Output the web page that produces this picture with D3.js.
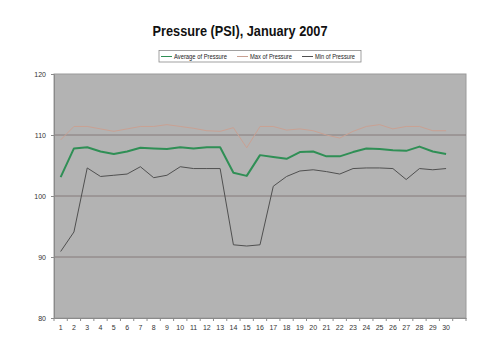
<!DOCTYPE html>
<html>
<head>
<meta charset="utf-8">
<script src="https://cdn.jsdelivr.net/npm/d3@7"></script>
<style>
  body { margin: 0; background: #fff; }
  text { font-family: "Liberation Sans", Arial, sans-serif; }
</style>
</head>
<body>
<div id="chart"></div>
<script>
// January days, the 31st slot is left empty on the axis
var days = d3.range(1, 32);
var dayLabels = d3.range(1, 31).map(String).concat([""]);
var yTicks = [80, 90, 100, 110, 120];

var avgPressure = [103.1, 107.8, 108.0, 107.3, 106.9, 107.3, 107.9, 107.8, 107.7, 108.0,
  107.8, 108.0, 108.0, 103.8, 103.3, 106.7, 106.4, 106.1, 107.2, 107.3,
  106.5, 106.5, 107.2, 107.8, 107.7, 107.5, 107.4, 108.1, 107.3, 106.9];
var maxPressure = [109.2, 111.4, 111.4, 111.0, 110.6, 111.0, 111.4, 111.4, 111.7, 111.4,
  111.1, 110.7, 110.6, 111.2, 107.9, 111.4, 111.4, 110.8, 111.0, 110.7,
  110.0, 109.5, 110.6, 111.4, 111.7, 111.0, 111.4, 111.4, 110.7, 110.7];
var minPressure = [90.9, 94.1, 104.6, 103.2, 103.4, 103.6, 104.8, 103.0, 103.4, 104.8,
  104.5, 104.5, 104.5, 92.0, 91.8, 92.0, 101.6, 103.2, 104.1, 104.3,
  104.0, 103.6, 104.5, 104.6, 104.6, 104.5, 102.7, 104.5, 104.3, 104.5];

var seriesNames = ["Average of Pressure", "Max of Pressure", "Min of Pressure"];
var seriesColors = ["#2f8f55", "#c9a193", "#505050"];
var seriesWidths = [2, 1, 1];
var seriesData = [avgPressure, maxPressure, minPressure];

var width = 501, height = 362;
var margin = {top: 74, right: 35, bottom: 44, left: 54};

var svg = d3.select("#chart").append("svg")
  .attr("width", width)
  .attr("height", height);

var x = d3.scaleBand()
  .domain(days)
  .range([margin.left, width - margin.right]);

var y = d3.scaleLinear()
  .domain([80, 120])
  .range([height - margin.bottom, margin.top]);

// plot area
svg.append("rect")
  .attr("x", margin.left)
  .attr("y", margin.top)
  .attr("width", width - margin.left - margin.right)
  .attr("height", height - margin.top - margin.bottom)
  .attr("fill", "#b3b3b3")
  .attr("stroke", "#9a9a9a")
  .attr("stroke-width", 1);

// gridlines
svg.append("g")
  .selectAll("line")
  .data(yTicks.filter(function(d) { return d > 80 && d < 120; }))
  .enter().append("line")
  .attr("x1", margin.left)
  .attr("x2", width - margin.right)
  .attr("y1", function(d) { return y(d); })
  .attr("y2", function(d) { return y(d); })
  .attr("stroke", "#857b7b")
  .attr("stroke-width", 1);

// y axis
var yAxis = svg.append("g")
  .attr("transform", "translate(" + margin.left + ",0)")
  .call(d3.axisLeft(y).tickValues(yTicks).tickSize(3).tickPadding(5));
yAxis.select(".domain").attr("stroke", "#8a8a8a");
yAxis.selectAll(".tick line").attr("stroke", "#8a8a8a");
yAxis.selectAll("text").attr("font-size", "7px").attr("fill", "#333");

// x axis
var xAxis = svg.append("g")
  .attr("transform", "translate(0," + (height - margin.bottom) + ")")
  .call(d3.axisBottom(x).tickSize(0).tickPadding(7)
    .tickFormat(function(d, i) { return dayLabels[i]; }));
xAxis.select(".domain").attr("stroke", "#8a8a8a");
xAxis.selectAll("text").attr("font-size", "7px").attr("fill", "#333");

// x tick marks between categories
xAxis.selectAll(".sep")
  .data(days.concat([32]))
  .enter().append("line")
  .attr("class", "sep")
  .attr("x1", function(d) { return d <= 31 ? x(d) : x(31) + x.bandwidth(); })
  .attr("x2", function(d) { return d <= 31 ? x(d) : x(31) + x.bandwidth(); })
  .attr("y1", 0)
  .attr("y2", 3)
  .attr("stroke", "#8a8a8a");

var line = d3.line()
  .x(function(d, i) { return x(days[i]) + x.bandwidth() / 2; })
  .y(function(d) { return y(d); });

// draw min, max, then average on top
[2, 1, 0].forEach(function(k) {
  svg.append("path")
    .datum(seriesData[k])
    .attr("fill", "none")
    .attr("stroke", seriesColors[k])
    .attr("stroke-width", seriesWidths[k])
    .attr("stroke-linejoin", "round")
    .attr("d", line);
});

// title
svg.append("text")
  .attr("x", 240)
  .attr("y", 36)
  .attr("text-anchor", "middle")
  .attr("font-size", "15px")
  .attr("font-weight", "bold")
  .attr("textLength", 175)
  .attr("lengthAdjust", "spacingAndGlyphs")
  .attr("fill", "#111")
  .text("Pressure (PSI), January 2007");

// legend
var legend = svg.append("g");
legend.append("rect")
  .attr("x", 159)
  .attr("y", 50.5)
  .attr("width", 202)
  .attr("height", 11.5)
  .attr("fill", "#fff")
  .attr("stroke", "#8a8a8a")
  .attr("stroke-width", 0.8);

var legendX = [161, 237, 302];
var legendTextLen = [53, 42, 40];
var item = legend.selectAll(".item")
  .data(seriesNames)
  .enter().append("g")
  .attr("class", "item")
  .attr("transform", function(d, i) { return "translate(" + legendX[i] + ",56.5)"; });

item.append("line")
  .attr("x1", 0)
  .attr("x2", 11)
  .attr("stroke", function(d, i) { return seriesColors[i]; })
  .attr("stroke-width", 1);

item.append("text")
  .attr("x", 13)
  .attr("dy", "0.35em")
  .attr("font-size", "6.5px")
  .attr("textLength", function(d, i) { return legendTextLen[i]; })
  .attr("lengthAdjust", "spacingAndGlyphs")
  .attr("fill", "#222")
  .text(function(d) { return d; });
</script>
</body>
</html>
